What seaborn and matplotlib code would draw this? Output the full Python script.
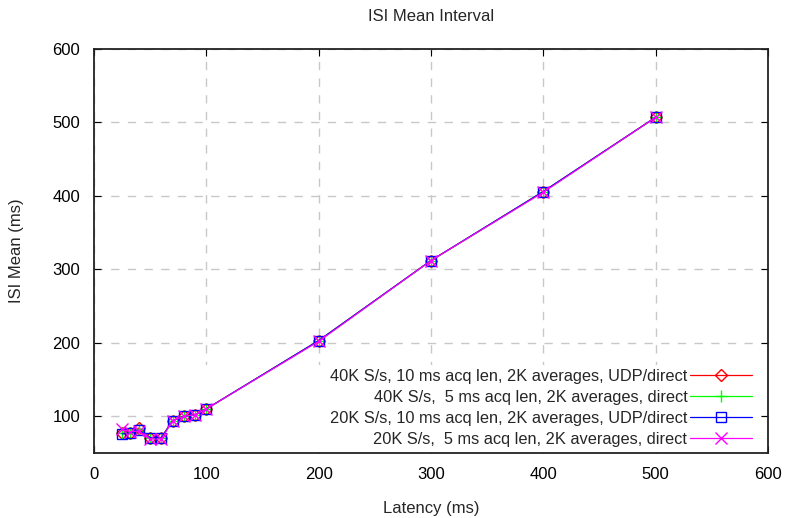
import matplotlib
matplotlib.use("Agg")
import matplotlib.pyplot as plt
import seaborn as sns
import pandas as pd
from matplotlib.patches import Rectangle

latency = [25, 32, 40, 50, 60, 70, 80, 90, 100, 200, 300, 400, 500]
red_40k_10ms = [77, 77, 84, 71, 71, 94, 100, 102, 110, 203, 312, 406, 507]
green_40k_5ms = [77, 77, 82, 71, 71, 94, 100, 102, 110, 203, 312, 406, 507]
blue_20k_10ms = [76, 77, 81, 71, 71, 94, 100, 102, 110, 203, 312, 406, 507]
magenta_20k_5ms = [82, 79, 80, 69, 69, 94, 100, 102, 110, 202, 312, 405, 507]

labels = [
    "40K S/s, 10 ms acq len, 2K averages, UDP/direct",
    "40K S/s,  5 ms acq len, 2K averages, direct",
    "20K S/s, 10 ms acq len, 2K averages, UDP/direct",
    "20K S/s,  5 ms acq len, 2K averages, direct",
]
series = [red_40k_10ms, green_40k_5ms, blue_20k_10ms, magenta_20k_5ms]
colors = ["#ff0000", "#00ff00", "#0000ff", "#ff00ff"]
markers = ["D", "+", "s", "x"]
msizes = [6, 8, 7, 8]

x_ticks = [0, 100, 200, 300, 400, 500, 600]
y_ticks = [100, 200, 300, 400, 500, 600]

FS = 12

sns.set_style("ticks")
plt.rcParams["font.family"] = ["Liberation Sans", "DejaVu Sans"]
plt.rcParams["font.size"] = FS

fig = plt.figure(figsize=(7.88, 5.18), dpi=100)
ax = fig.add_axes([94 / 788, 1 - 453 / 518, 674 / 788, 404 / 518])

for lab, vals, c, m, ms in zip(labels, series, colors, markers, msizes):
    df = pd.DataFrame({"Latency": latency, "ISI": vals})
    sns.lineplot(data=df, x="Latency", y="ISI", ax=ax, color=c, marker=m,
                 markersize=ms, markerfacecolor="none", markeredgecolor=c,
                 markeredgewidth=1.0, linewidth=0.9, label=lab,
                 estimator=None, sort=False, zorder=3)

ax.set_xlim(0, 600)
ax.set_ylim(50, 600)
ax.set_xticks(x_ticks)
ax.set_yticks(y_ticks)
ax.grid(True, color="#c8c8c8", linestyle=(0, (6, 6)), linewidth=1.0)
ax.set_axisbelow(True)
ax.tick_params(direction="in", length=5, width=0.8, top=True, right=True,
               labelsize=FS, pad=10, colors="#000000")
for s in ax.spines.values():
    s.set_color("#222222")
    s.set_linewidth(1.3)

# opaque key background like gnuplot
ax.add_patch(Rectangle((0.128, 0.0), 0.86, 0.218, transform=ax.transAxes,
                       facecolor="white", edgecolor="none", zorder=1.2))

ax.set_title("ISI Mean Interval", fontsize=FS, pad=20)
ax.set_xlabel("Latency (ms)", fontsize=FS, labelpad=14)
ax.set_ylabel("ISI Mean (ms)", fontsize=FS, labelpad=20)

leg = ax.legend(loc="upper right", bbox_to_anchor=((752 - 94) / 674, (453 - 369) / 404),
                frameon=False, markerfirst=False, borderaxespad=0, borderpad=0,
                handlelength=3.8, handletextpad=0.15, labelspacing=0.36,
                fontsize=11.8)
leg.set_zorder(1.5)

fig.savefig("out.png", dpi=100)
